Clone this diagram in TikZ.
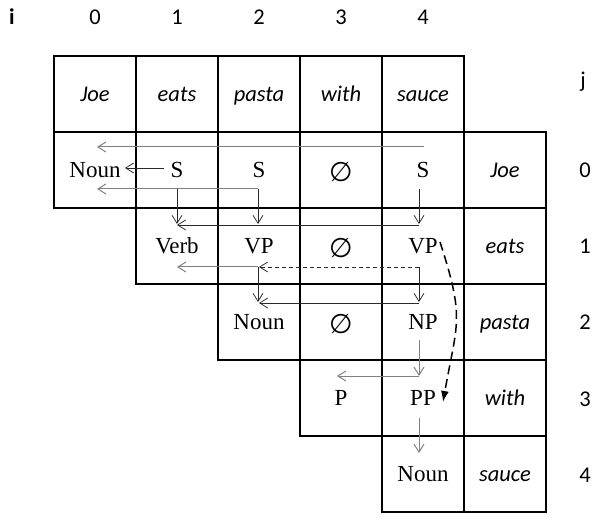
\documentclass[tikz,border=0pt]{standalone}
\usepackage{fontspec}
\setmainfont{Liberation Serif}
\newfontfamily\lblfont{Carlito}
\newfontfamily\symfont{DejaVu Sans}
\usetikzlibrary{arrows.meta,calc}
\newcommand{\emptycell}{\raisebox{-4pt}{\symfont\fontsize{27}{31}\selectfont\symbol{"2205}}}
\definecolor{lncol}{HTML}{2A2A2A}
\definecolor{grcol}{HTML}{808080}
\tikzset{
  cellbox/.style={draw=black, line width=1.1pt, minimum width=82pt, minimum height=76pt,
    inner sep=0pt, text height=15pt, text depth=0pt},
  serifcell/.style={cellbox, font=\fontsize{23}{27}\selectfont},
  wordcell/.style={cellbox, font=\lblfont\itshape\fontsize{22.5}{27}\selectfont},
  idx/.style={anchor=base, inner sep=0pt, font=\lblfont\fontsize{22.5}{27}\selectfont},
  ptr/.style={draw=lncol, line width=0.75pt, -{Straight Barb[length=8pt,width=10pt]}},
  gptr/.style={draw=grcol, line width=1pt, -{Straight Barb[length=8pt,width=10pt]}},
  altptr/.style={draw=lncol, line width=0.75pt, dash pattern=on 4pt off 3pt,
    -{Straight Barb[length=8pt,width=10pt]}},
  curveptr/.style={draw=black, line width=1.5pt, dash pattern=on 9pt off 5pt,
    -{Latex[length=11pt,width=8pt]}},
}
\begin{document}
\begin{tikzpicture}[x=1pt,y=-1pt]
\useasboundingbox (0,0) rectangle (602,526);
% indices
\node[idx, font=\lblfont\bfseries\fontsize{22.5}{27}\selectfont] (ilbl) at (12,25) {i};
\foreach \k in {0,...,4} \node[idx] (ci\k) at ({95+82*\k},25) {\k};
\node[idx] (jlbl) at (583,88) {j};
\foreach \k in {0,...,4} \node[idx] (rj\k) at (585,{178+76*\k}) {\k};
% header words
\foreach \w [count=\k from 0] in {Joe,eats,pasta,with,sauce}
  \node[wordcell] (h\k) at ({95+82*\k},94) {\w};
% right labels
\foreach \w [count=\k from 0] in {Joe,eats,pasta,with,sauce}
  \node[wordcell] (l\k) at (505,{170+76*\k}) {\w};
% row 0
\node[serifcell] (n00) at (95,170) {Noun};
\node[serifcell] (s01) at (177,170) {S};
\node[serifcell] (s02) at (259,170) {S};
\node[serifcell] (e03) at (341,170) {\emptycell};
\node[serifcell] (s04) at (423,170) {S};
% row 1
\node[serifcell] (v11) at (177,246) {Verb};
\node[serifcell] (vp12) at (259,246) {VP};
\node[serifcell] (e13) at (341,246) {\emptycell};
\node[serifcell] (vp14) at (423,246) {VP};
% row 2
\node[serifcell] (n22) at (259,322) {Noun};
\node[serifcell] (e23) at (341,322) {\emptycell};
\node[serifcell] (np24) at (423,322) {NP};
% row 3
\node[serifcell] (p33) at (341,398) {P};
\node[serifcell] (pp34) at (423,398) {PP};
% row 4
\node[serifcell] (n44) at (423,474) {Noun};
% pointers, row 0
\draw[gptr] ($(s04)+(1,-23)$) -- ($(n00)+(2,-23)$);
\draw[ptr] ($(s01)+(-13,-2)$) -- ($(n00)+(30,-2)$);
\draw[gptr] ($(s02)+(-1,19)$) -- ($(n00)+(2,19)$);
\draw[ptr] ($(s02)+(-1,19)$) -- ($(vp12)+(-1,-22)$);
\draw[ptr] ($(s01)+(0,19)$) -- ($(v11)+(0,-22)$);
\draw[ptr] ($(s04)+(-4,19)$) -- ($(vp14)+(-4,-22)$);
\draw[ptr] ($(vp14)+(-4,-21)$) -- ($(v11)+(0,-21)$);
% row 1
\draw[gptr] ($(vp12)+(-1,21)$) -- ($(v11)+(0,21)$);
\draw[ptr] ($(vp12)+(-1,21)$) -- ($(n22)+(-1,-20)$);
\draw[altptr] ($(vp14)+(-4,21)$) -- ($(vp12)+(0,21)$);
\draw[ptr] ($(vp14)+(-4,21)$) -- ($(np24)+(-4,-20)$);
\draw[ptr] ($(np24)+(-4,-19)$) -- ($(n22)+(0,-19)$);
% row 2 and below
\draw[gptr] ($(np24)+(-4,18)$) -- ($(pp34)+(-4,-22)$);
\draw[gptr] ($(pp34)+(-4,-22)$) -- ($(p33)+(-4,-22)$);
\draw[gptr] ($(pp34)+(-4,20)$) -- ($(n44)+(-4,-21)$);
% alternative parse
\draw[curveptr] ($(vp14)+(17,-4)$) to[out=-72,in=80,looseness=1.3] ($(pp34)+(20,4)$);
\end{tikzpicture}
\end{document}
